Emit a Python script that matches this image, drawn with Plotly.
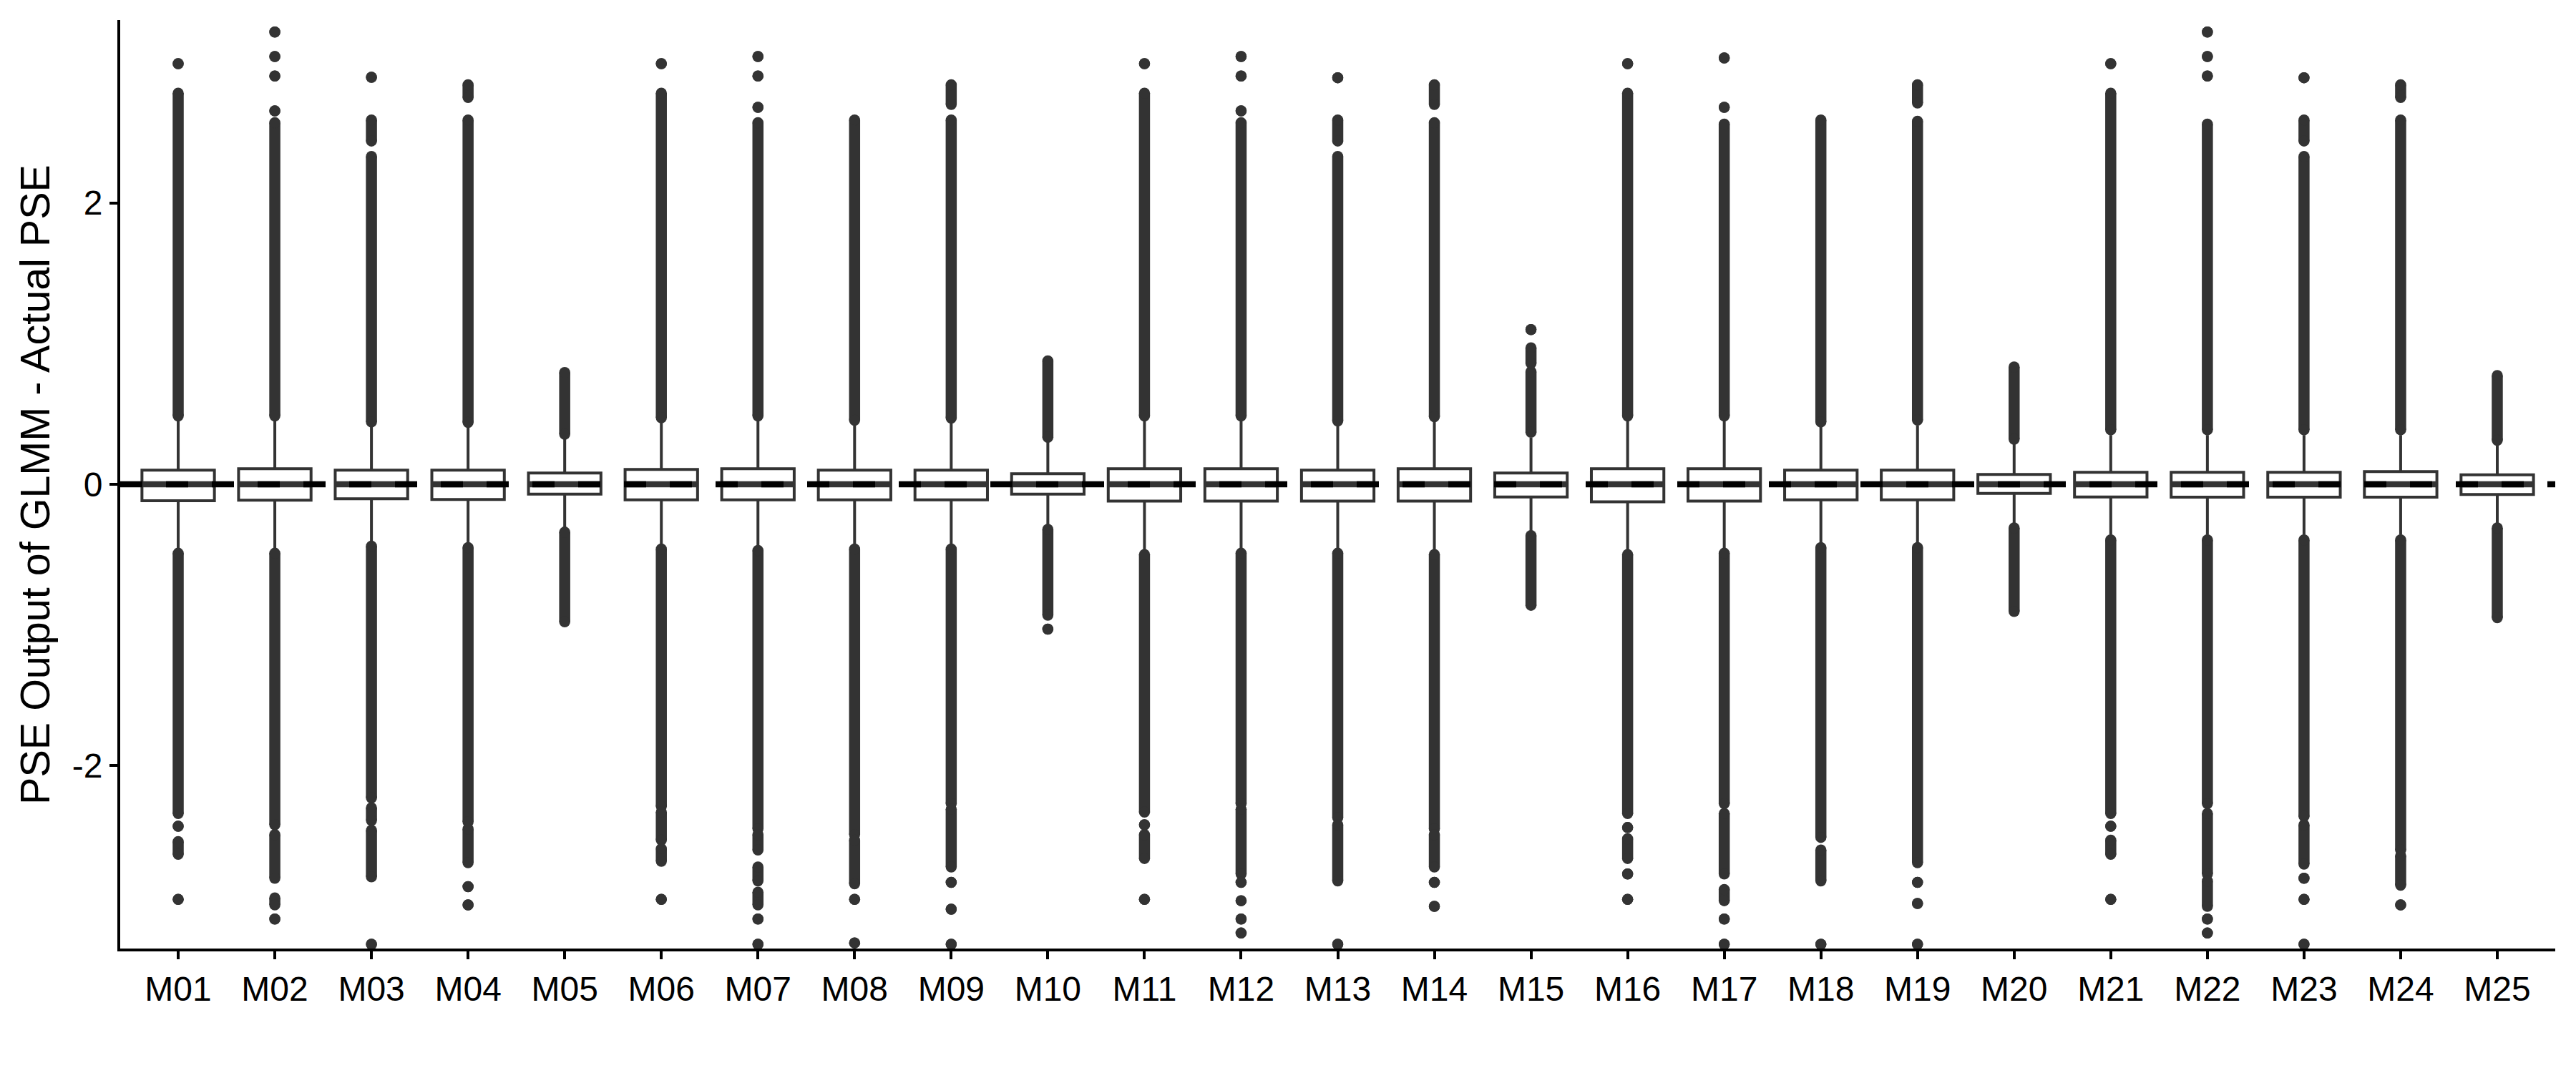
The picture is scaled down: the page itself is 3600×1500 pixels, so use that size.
import plotly.graph_objects as go

models = ["M01", "M02", "M03", "M04", "M05", "M06", "M07", "M08", "M09", "M10",
          "M11", "M12", "M13", "M14", "M15", "M16", "M17", "M18", "M19", "M20",
          "M21", "M22", "M23", "M24", "M25"]

q1 = [-0.117, -0.113, -0.103, -0.108, -0.07, -0.11, -0.11, -0.11, -0.11, -0.07,
      -0.12, -0.12, -0.12, -0.12, -0.09, -0.125, -0.12, -0.11, -0.11, -0.065,
      -0.09, -0.092, -0.092, -0.092, -0.073]
median = [0.0] * 25
q3 = [0.10, 0.11, 0.10, 0.10, 0.08, 0.105, 0.11, 0.10, 0.10, 0.075,
      0.11, 0.11, 0.10, 0.11, 0.08, 0.11, 0.11, 0.10, 0.10, 0.07,
      0.085, 0.085, 0.085, 0.09, 0.068]
upper_whisker = [0.45, 0.45, 0.41, 0.41, 0.32, 0.44, 0.45, 0.42, 0.44, 0.30,
                 0.45, 0.45, 0.42, 0.45, 0.33, 0.45, 0.45, 0.41, 0.42, 0.29,
                 0.35, 0.35, 0.35, 0.35, 0.28]
lower_whisker = [-0.46, -0.46, -0.41, -0.42, -0.31, -0.43, -0.44, -0.43, -0.43, -0.29,
                 -0.47, -0.46, -0.46, -0.47, -0.33, -0.47, -0.46, -0.42, -0.42, -0.28,
                 -0.36, -0.36, -0.36, -0.36, -0.28]

# outliers: runs of densely packed points [from, to]; single points have from == to
upper_outliers = [
    [[0.486, 2.78], [2.99, 2.99]],
    [[0.486, 2.57], [2.654, 2.654], [2.902, 2.902], [3.041, 3.041], [3.215, 3.215]],
    [[0.443, 2.33], [2.44, 2.59], [2.893, 2.893]],
    [[0.44, 2.59], [2.75, 2.84]],
    [[0.356, 0.795]],
    [[0.473, 2.78], [2.99, 2.99]],
    [[0.486, 2.57], [2.68, 2.68], [2.902, 2.902], [3.041, 3.041]],
    [[0.455, 2.59]],
    [[0.47, 2.59], [2.70, 2.84]],
    [[0.334, 0.877]],
    [[0.486, 2.78], [2.99, 2.99]],
    [[0.486, 2.57], [2.654, 2.654], [2.902, 2.902], [3.041, 3.041]],
    [[0.45, 2.33], [2.44, 2.59], [2.89, 2.89]],
    [[0.48, 2.57], [2.70, 2.84]],
    [[0.37, 0.80], [0.86, 0.97], [1.10, 1.10]],
    [[0.486, 2.78], [2.99, 2.99]],
    [[0.486, 2.56], [2.68, 2.68], [3.03, 3.03]],
    [[0.443, 2.59]],
    [[0.456, 2.58], [2.71, 2.84]],
    [[0.32, 0.834]],
    [[0.387, 2.78], [2.99, 2.99]],
    [[0.387, 2.56], [2.902, 2.902], [3.041, 3.041], [3.215, 3.215]],
    [[0.387, 2.33], [2.44, 2.59], [2.89, 2.89]],
    [[0.387, 2.59], [2.75, 2.84]],
    [[0.313, 0.773]],
]
lower_outliers = [
    [[-0.49, -2.34], [-2.43, -2.43], [-2.54, -2.63], [-2.95, -2.95]],
    [[-0.49, -2.42], [-2.49, -2.80], [-2.94, -2.99], [-3.09, -3.09]],
    [[-0.44, -2.23], [-2.30, -2.39], [-2.46, -2.79], [-3.27, -3.27]],
    [[-0.45, -2.40], [-2.45, -2.69], [-2.86, -2.86], [-2.99, -2.99]],
    [[-0.34, -0.978]],
    [[-0.46, -2.29], [-2.33, -2.53], [-2.59, -2.68], [-2.95, -2.95]],
    [[-0.47, -2.45], [-2.49, -2.60], [-2.72, -2.82], [-2.90, -2.99], [-3.09, -3.09], [-3.27, -3.27]],
    [[-0.46, -2.49], [-2.53, -2.84], [-2.95, -2.95], [-3.26, -3.26]],
    [[-0.46, -2.27], [-2.31, -2.72], [-2.83, -2.83], [-3.02, -3.02], [-3.27, -3.27]],
    [[-0.32, -0.93], [-1.03, -1.03]],
    [[-0.50, -2.33], [-2.42, -2.42], [-2.49, -2.66], [-2.95, -2.95]],
    [[-0.49, -2.27], [-2.31, -2.77], [-2.83, -2.83], [-2.96, -2.96], [-3.09, -3.09], [-3.19, -3.19]],
    [[-0.49, -2.37], [-2.42, -2.82], [-3.27, -3.27]],
    [[-0.50, -2.45], [-2.49, -2.72], [-2.83, -2.83], [-3.00, -3.00]],
    [[-0.365, -0.86]],
    [[-0.50, -2.34], [-2.44, -2.44], [-2.52, -2.66], [-2.77, -2.77], [-2.95, -2.95]],
    [[-0.49, -2.27], [-2.34, -2.77], [-2.88, -2.96], [-3.09, -3.09], [-3.27, -3.27]],
    [[-0.45, -2.51], [-2.60, -2.82], [-3.27, -3.27]],
    [[-0.45, -2.69], [-2.83, -2.83], [-2.98, -2.98], [-3.27, -3.27]],
    [[-0.31, -0.904]],
    [[-0.395, -2.34], [-2.43, -2.43], [-2.53, -2.63], [-2.95, -2.95]],
    [[-0.395, -2.27], [-2.34, -2.77], [-2.82, -3.00], [-3.09, -3.09], [-3.19, -3.19]],
    [[-0.395, -2.36], [-2.42, -2.70], [-2.80, -2.80], [-2.95, -2.95], [-3.27, -3.27]],
    [[-0.395, -2.60], [-2.64, -2.85], [-2.99, -2.99]],
    [[-0.31, -0.948]],
]

y_ticks = [-2, 0, 2]
y_tick_labels = ["-2", "0", "2"]
y_title = "PSE Output of GLMM - Actual PSE"
reference_line = 0

# ---------------- styling ----------------
DARK = "#333333"
FONT = "Liberation Sans, Arial, sans-serif"
BOX_W = 0.75
PT = 15.5

xs = list(range(len(models)))

fig = go.Figure()

fig.add_trace(go.Box(
    x=xs, q1=q1, median=median, q3=q3,
    lowerfence=lower_whisker, upperfence=upper_whisker,
    boxpoints=False, width=BOX_W, whiskerwidth=0,
    fillcolor="white", line=dict(color=DARK, width=4),
    hoverinfo="skip", showlegend=False,
))

# thicker median bars
mx, my = [], []
for i, m in zip(xs, median):
    mx += [i - BOX_W / 2, i + BOX_W / 2, None]
    my += [m, m, None]
fig.add_trace(go.Scatter(x=mx, y=my, mode="lines",
                         line=dict(color=DARK, width=8.5),
                         hoverinfo="skip", showlegend=False))

# outliers: dense runs drawn as thick strokes, plus the dots at each end
lx, ly, px, py = [], [], [], []
for i in xs:
    for run in upper_outliers[i] + lower_outliers[i]:
        a, b = run
        if a != b:
            lx += [i, i, None]
            ly += [a, b, None]
        px += [i, i]
        py += [a, b]
fig.add_trace(go.Scatter(x=lx, y=ly, mode="lines",
                         line=dict(color=DARK, width=PT),
                         hoverinfo="skip", showlegend=False))
fig.add_trace(go.Scatter(x=px, y=py, mode="markers",
                         marker=dict(color=DARK, size=PT, line=dict(width=0)),
                         hoverinfo="skip", showlegend=False))

fig.add_shape(type="line", xref="paper", x0=0, x1=1, yref="y",
              y0=reference_line, y1=reference_line,
              line=dict(color="black", width=8.5, dash="31px,33px"),
              layer="above")

fig.add_annotation(text=y_title, xref="paper", yref="paper",
                   x=-0.035, y=0.5, xanchor="center", yanchor="middle",
                   textangle=-90, showarrow=False,
                   font=dict(family=FONT, size=57.5, color="black"))

fig.update_layout(
    width=3600, height=1500,
    margin=dict(l=160, r=37, t=20, b=182),
    paper_bgcolor="white", plot_bgcolor="white",
    showlegend=False,
    font=dict(family=FONT, color="black"),
    xaxis=dict(range=[-0.6, len(models) - 0.4], tickvals=xs, ticktext=models,
               showgrid=False, zeroline=False, showline=True,
               linecolor="black", linewidth=4,
               ticks="outside", ticklen=11, tickwidth=4, tickcolor="black",
               tickfont=dict(family=FONT, size=48, color="black")),
    yaxis=dict(range=[-3.30, 3.30], tickvals=y_ticks, ticktext=y_tick_labels,
               showgrid=False, zeroline=False, showline=True,
               linecolor="black", linewidth=4,
               ticks="outside", ticklen=11, tickwidth=4, tickcolor="black",
               tickfont=dict(family=FONT, size=48, color="black")),
)

fig.write_html("out.html")
